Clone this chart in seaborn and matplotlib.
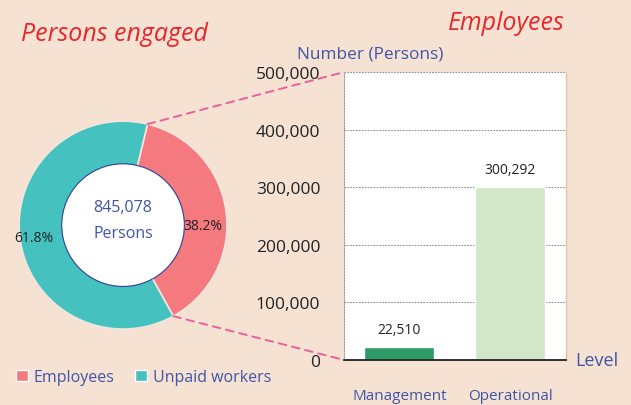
import matplotlib.pyplot as plt
import seaborn as sns
import pandas as pd
import numpy as np
from matplotlib.patches import Circle, ConnectionPatch, Patch

# data
pie_labels = ['Employees', 'Unpaid workers']
pie_shares = [38.2, 61.8]
total_persons = 845078
levels = ['Management', 'Operational']
employees = [22510, 300292]
y_ticks = [0, 100000, 200000, 300000, 400000, 500000]

bg = '#F6E2D3'
blue = '#3F55A8'
red = '#E8262B'
pink_line = '#E9609D'
pie_colors = ['#F47A80', '#45C1C0']
bar_colors = ['#2E9A65', '#D1E7C8']

sns.set_style('white')
plt.rcParams['font.family'] = ['Open Sans', 'DejaVu Sans']

fig = plt.figure(figsize=(6.31, 4.06), dpi=100, facecolor=bg)

# donut
ax_pie = fig.add_axes([0.030, 0.187, 0.330, 0.512])
ax_pie.set_facecolor(bg)
start = 76.4
wedges, _, autotexts = ax_pie.pie(
    pie_shares, colors=pie_colors, startangle=start, counterclock=False,
    autopct='%.1f%%', pctdistance=0.82, radius=1,
    wedgeprops=dict(width=0.42, edgecolor='#F3E6DC', linewidth=1.2),
    textprops=dict(fontsize=10, color='#222222'))
# nudge the percent labels to where the reference puts them
autotexts[0].set_position((0.77, 0.0))
autotexts[1].set_position((-0.86, -0.12))
ax_pie.add_patch(Circle((0, 0), 0.59, facecolor='white', edgecolor='#2F3F95',
                        linewidth=0.8, zorder=5))
ax_pie.text(0, 0.17, f'{total_persons:,}', ha='center', va='center', color=blue,
            fontsize=11.5, zorder=6)
ax_pie.text(0, -0.08, 'Persons', ha='center', va='center', color=blue,
            fontsize=11.5, zorder=6)
ax_pie.set_xlim(-1, 1)
ax_pie.set_ylim(-1, 1)
ax_pie.set_aspect('equal')
ax_pie.axis('off')

# bars
ax = fig.add_axes([0.545, 0.111, 0.352, 0.709])
ax.set_facecolor('white')
df = pd.DataFrame({'level': levels, 'persons': employees})
sns.barplot(data=df, x='level', y='persons', hue='level', palette=bar_colors,
            width=0.63, legend=False, ax=ax, saturation=1)
ax.set_xlim(-0.5, 1.5)
ax.set_ylim(0, 500000)
ax.set_yticks(y_ticks)
ax.set_yticklabels([f'{v:,}' for v in y_ticks], fontsize=12.5, color='#222222')
ax.set_xticks([-0.5, 0.5, 1.5])
ax.set_xticklabels([])
ax.set_xticks([0, 1], minor=True)
ax.set_xticklabels(levels, minor=True, fontsize=11, color=blue)
ax.tick_params(axis='x', which='minor', length=0, pad=20)
ax.tick_params(axis='x', which='major', length=5, width=0.8, color='#333333', direction='out')
ax.tick_params(axis='y', length=7, width=0.6, color='#888888', direction='out', pad=10)
ax.set_xlabel('')
ax.set_ylabel('')
ax.grid(axis='y', linestyle=(0, (2, 1.5)), color='#777777', linewidth=0.6)
ax.set_axisbelow(True)
ax.spines['left'].set_linestyle((0, (2, 1.5)))
ax.spines['left'].set_color('#888888')
ax.spines['left'].set_linewidth(0.6)
ax.spines['top'].set_visible(False)
ax.spines['right'].set_color('#DCC3AE')
ax.spines['right'].set_linewidth(1.0)
ax.spines['bottom'].set_color('#222222')
ax.spines['bottom'].set_linewidth(1.3)
for c in ax.containers:
    ax.bar_label(c, labels=[f'{int(v):,}' for v in c.datavalues], padding=7,
                 fontsize=10, color='#222222')

ax.text(0.12, 1.066, 'Number (Persons)', transform=ax.transAxes, ha='center',
        va='center', color=blue, fontsize=12.4)
ax.text(1.04, 0.0, 'Level', transform=ax.transAxes, ha='left', va='center',
        color=blue, fontsize=13)

# dashed connectors from the employee wedge to the bar axes
a1 = np.deg2rad(start)
a2 = np.deg2rad(start - 360 * pie_shares[0] / 100)
for ang, yv in [(a1, y_ticks[-1]), (a2, 0)]:
    con = ConnectionPatch(xyA=(np.cos(ang), np.sin(ang)), coordsA=ax_pie.transData,
                          xyB=(-0.5, yv), coordsB=ax.transData,
                          color=pink_line, linestyle=(0, (4, 3)), linewidth=1.4)
    fig.add_artist(con)

# titles
fig.text(0.182, 0.914, 'Persons engaged', ha='center', va='center', color=red,
         fontsize=18, style='italic')
fig.text(0.802, 0.941, 'Employees', ha='center', va='center', color=red,
         fontsize=18, style='italic')

# legend
handles = [Patch(facecolor=c, label=l) for c, l in zip(pie_colors, pie_labels)]
leg = fig.legend(handles=handles, loc='center left', bbox_to_anchor=(0.003, 0.069),
                 ncol=2, frameon=False, fontsize=11.5, handlelength=0.75,
                 handleheight=0.75, handletextpad=0.35, columnspacing=1.3)
for t in leg.get_texts():
    t.set_color(blue)

fig.savefig('out.png', dpi=100, facecolor=bg)
